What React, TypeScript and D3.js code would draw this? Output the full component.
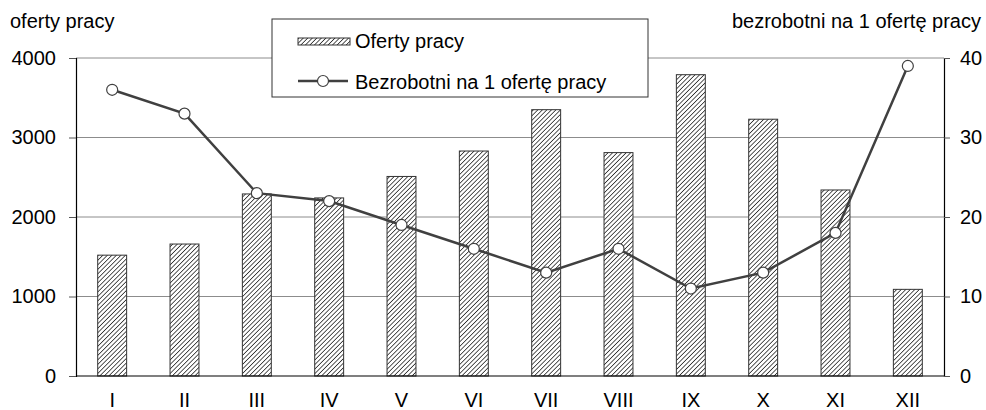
import React, { useEffect, useRef } from 'react';
import * as d3 from 'd3';

// months, job offers (left axis) and unemployed per offer (right axis)
const months = ['I', 'II', 'III', 'IV', 'V', 'VI', 'VII', 'VIII', 'IX', 'X', 'XI', 'XII'];
const offers = [1520, 1660, 2290, 2240, 2510, 2830, 3350, 2810, 3790, 3230, 2340, 1090];
const perOffer = [36, 33, 23, 22, 19, 16, 13, 16, 11, 13, 18, 39];
const leftTicks = [0, 1000, 2000, 3000, 4000];
const rightTicks = [0, 10, 20, 30, 40];

const W = 986;
const H = 410;
const FONT = 'Liberation Sans, Arial, sans-serif';
const FS = 20;

const App = () => {
  const svgRef = useRef<SVGSVGElement>(null);

  useEffect(() => {
    const svg = d3.select(svgRef.current);
    svg.selectAll('*').remove();

    const margin = { top: 58, right: 42, bottom: 34, left: 76 };
    const x0 = margin.left;
    const x1 = W - margin.right;
    const y0 = H - margin.bottom;
    const y1 = margin.top;

    const x = d3.scaleBand().domain(months).range([x0, x1]).paddingInner(0.6).paddingOuter(0.3);
    const yL = d3.scaleLinear().domain([0, 4000]).range([y0, y1]);
    const yR = d3.scaleLinear().domain([0, 40]).range([y0, y1]);

    // hatch pattern for bars
    const defs = svg.append('defs');
    const pat = defs.append('pattern')
      .attr('id', 'hatch')
      .attr('patternUnits', 'userSpaceOnUse')
      .attr('width', 3.2)
      .attr('height', 3.2)
      .attr('patternTransform', 'rotate(45)');
    pat.append('rect').attr('width', 3.2).attr('height', 3.2).attr('fill', '#fff');
    pat.append('line')
      .attr('x1', 0).attr('y1', 0).attr('x2', 0).attr('y2', 3.2)
      .attr('stroke', '#111').attr('stroke-width', 1.4);

    // gridlines
    svg.append('g')
      .selectAll('line')
      .data(leftTicks.filter(d => d > 0))
      .enter()
      .append('line')
      .attr('x1', x0).attr('x2', x1)
      .attr('y1', d => yL(d)).attr('y2', d => yL(d))
      .attr('stroke', '#8c8c8c').attr('stroke-width', 1);

    // bars
    svg.append('g')
      .selectAll('rect')
      .data(offers)
      .enter()
      .append('rect')
      .attr('x', (d, i) => x(months[i])!)
      .attr('y', d => yL(d))
      .attr('width', x.bandwidth())
      .attr('height', d => y0 - yL(d))
      .attr('fill', 'url(#hatch)')
      .attr('stroke', '#333')
      .attr('stroke-width', 1);

    // axes
    const leftAxis = svg.append('g')
      .attr('transform', `translate(${x0},0)`)
      .call(d3.axisLeft(yL).tickValues(leftTicks).tickSize(7).tickPadding(13).tickFormat(d3.format('d')));
    const rightAxis = svg.append('g')
      .attr('transform', `translate(${x1},0)`)
      .call(d3.axisRight(yR).tickValues(rightTicks).tickSize(6).tickPadding(10).tickFormat(d3.format('d')));
    const bottomAxis = svg.append('g')
      .attr('transform', `translate(0,${y0})`)
      .call(d3.axisBottom(x).tickSize(0).tickPadding(17));
    [leftAxis, rightAxis, bottomAxis].forEach(a => {
      a.select('.domain').attr('stroke', '#000').attr('stroke-width', 1.2);
      a.selectAll('.tick line').attr('stroke', '#555');
      a.selectAll('text').attr('font-family', FONT).attr('font-size', FS).attr('fill', '#000');
    });
    bottomAxis.select('.domain').attr('d', `M${x0},0H${x1}`);

    // line
    const line = d3.line<number>()
      .x((d, i) => x(months[i])! + x.bandwidth() / 2)
      .y(d => yR(d));
    svg.append('path')
      .datum(perOffer)
      .attr('d', line)
      .attr('fill', 'none')
      .attr('stroke', '#404040')
      .attr('stroke-width', 2.5);
    svg.append('g')
      .selectAll('circle')
      .data(perOffer)
      .enter()
      .append('circle')
      .attr('cx', (d, i) => x(months[i])! + x.bandwidth() / 2)
      .attr('cy', d => yR(d))
      .attr('r', 5.5)
      .attr('fill', '#fff')
      .attr('stroke', '#404040')
      .attr('stroke-width', 1.2);

    // axis titles
    svg.append('text')
      .attr('x', 10).attr('y', 28)
      .attr('font-family', FONT).attr('font-size', FS)
      .text('oferty pracy');
    svg.append('text')
      .attr('x', 981).attr('y', 28)
      .attr('text-anchor', 'end')
      .attr('font-family', FONT).attr('font-size', FS)
      .text('bezrobotni na 1 ofertę pracy');

    // legend
    const lg = svg.append('g').attr('transform', 'translate(272,19)');
    lg.append('rect')
      .attr('width', 376).attr('height', 78)
      .attr('fill', '#fff').attr('stroke', '#333').attr('stroke-width', 1);
    lg.append('rect')
      .attr('x', 26).attr('y', 19).attr('width', 52).attr('height', 7)
      .attr('fill', 'url(#hatch)').attr('stroke', '#333').attr('stroke-width', 1);
    lg.append('text')
      .attr('x', 83).attr('y', 29)
      .attr('font-family', FONT).attr('font-size', FS)
      .text('Oferty pracy');
    lg.append('line')
      .attr('x1', 26).attr('x2', 76).attr('y1', 62).attr('y2', 62)
      .attr('stroke', '#404040').attr('stroke-width', 2.5);
    lg.append('circle')
      .attr('cx', 51).attr('cy', 62).attr('r', 5.5)
      .attr('fill', '#fff').attr('stroke', '#404040').attr('stroke-width', 1.2);
    lg.append('text')
      .attr('x', 83).attr('y', 70)
      .attr('font-family', FONT).attr('font-size', FS)
      .text('Bezrobotni na 1 ofertę pracy');
  }, []);

  return (
    <svg ref={svgRef} width={W} height={H} style={{ position: 'absolute', left: 0, top: 0, background: '#fff' }} />
  );
};

export default App;
